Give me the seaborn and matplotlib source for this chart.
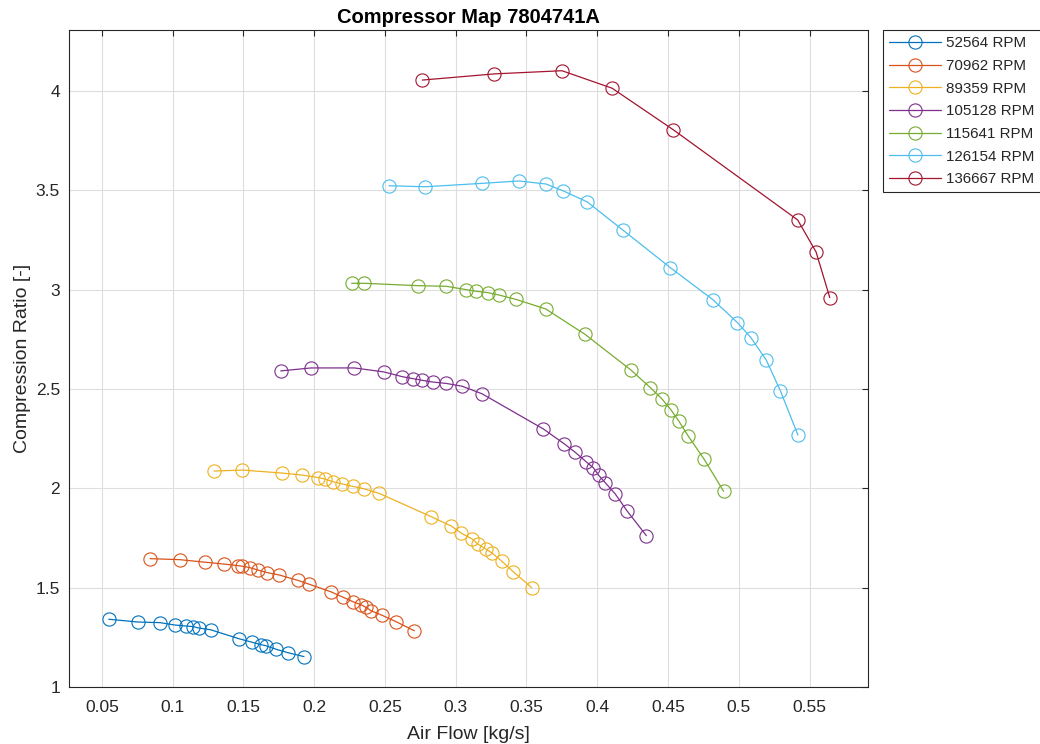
import matplotlib
matplotlib.use("Agg")
import matplotlib.pyplot as plt
import seaborn as sns
import numpy as np
import pandas as pd

# ---- data ----
speeds = ["52564 RPM", "70962 RPM", "89359 RPM", "105128 RPM",
          "115641 RPM", "126154 RPM", "136667 RPM"]

flow_52564 = [0.0549, 0.0756, 0.0911, 0.1015, 0.1093, 0.1146, 0.1185, 0.1269,
              0.1469, 0.1563, 0.1625, 0.1658, 0.1731, 0.1813, 0.1928]
pr_52564 = [1.341, 1.327, 1.324, 1.312, 1.307, 1.304, 1.297, 1.288,
            1.243, 1.225, 1.213, 1.208, 1.190, 1.173, 1.153]

flow_70962 = [0.0841, 0.1050, 0.1231, 0.1361, 0.1460, 0.1493, 0.1545, 0.1606,
              0.1667, 0.1752, 0.1884, 0.1962, 0.2119, 0.2204, 0.2275, 0.2331,
              0.2366, 0.2404, 0.2480, 0.2578, 0.2708]
pr_70962 = [1.646, 1.641, 1.628, 1.619, 1.611, 1.608, 1.601, 1.588,
            1.576, 1.564, 1.537, 1.518, 1.479, 1.452, 1.429, 1.414,
            1.401, 1.383, 1.361, 1.329, 1.283]

flow_89359 = [0.1293, 0.1493, 0.1771, 0.1912, 0.2030, 0.2075, 0.2135, 0.2199,
              0.2273, 0.2350, 0.2458, 0.2828, 0.2969, 0.3040, 0.3117, 0.3160,
              0.3212, 0.3254, 0.3325, 0.3407, 0.3537]
pr_89359 = [2.087, 2.092, 2.077, 2.067, 2.054, 2.047, 2.033, 2.022,
            2.010, 1.998, 1.975, 1.857, 1.810, 1.774, 1.745, 1.718,
            1.695, 1.676, 1.634, 1.580, 1.500]

flow_105128 = [0.1764, 0.1978, 0.2284, 0.2492, 0.2623, 0.2699, 0.2762, 0.2838,
               0.2934, 0.3045, 0.3186, 0.3619, 0.3765, 0.3845, 0.3923, 0.3972,
               0.4010, 0.4057, 0.4126, 0.4210, 0.4347]
pr_105128 = [2.591, 2.606, 2.606, 2.586, 2.562, 2.552, 2.544, 2.535,
             2.528, 2.514, 2.476, 2.299, 2.225, 2.181, 2.133, 2.104,
             2.066, 2.028, 1.973, 1.887, 1.762]

flow_115641 = [0.2265, 0.2352, 0.2736, 0.2934, 0.3075, 0.3144, 0.3228, 0.3306,
               0.3426, 0.3636, 0.3914, 0.4237, 0.4375, 0.4456, 0.4523, 0.4576,
               0.4643, 0.4754, 0.4893]
pr_115641 = [3.032, 3.032, 3.020, 3.017, 3.000, 2.992, 2.985, 2.973,
             2.951, 2.903, 2.775, 2.596, 2.507, 2.451, 2.393, 2.339,
             2.263, 2.148, 1.985]

flow_126154 = [0.2528, 0.2785, 0.3185, 0.3445, 0.3637, 0.3761, 0.3931, 0.4183,
               0.4516, 0.4818, 0.4991, 0.5086, 0.5194, 0.5294, 0.5418]
pr_126154 = [3.523, 3.518, 3.535, 3.547, 3.532, 3.497, 3.441, 3.299,
             3.111, 2.949, 2.834, 2.758, 2.646, 2.491, 2.268]

flow_136667 = [0.2764, 0.3272, 0.3751, 0.4105, 0.4537, 0.5416, 0.5546, 0.5643]
pr_136667 = [4.055, 4.086, 4.102, 4.014, 3.805, 3.351, 3.190, 2.960]

flows = [flow_52564, flow_70962, flow_89359, flow_105128,
         flow_115641, flow_126154, flow_136667]
prs = [pr_52564, pr_70962, pr_89359, pr_105128,
       pr_115641, pr_126154, pr_136667]

x_ticks = [0.05, 0.1, 0.15, 0.2, 0.25, 0.3, 0.35, 0.4, 0.45, 0.5, 0.55]
x_tick_labels = ["0.05", "0.1", "0.15", "0.2", "0.25", "0.3", "0.35",
                 "0.4", "0.45", "0.5", "0.55"]
y_ticks = [1, 1.5, 2, 2.5, 3, 3.5, 4]
y_tick_labels = ["1", "1.5", "2", "2.5", "3", "3.5", "4"]

colors = [(0, 0.447, 0.741), (0.85, 0.325, 0.098), (0.929, 0.694, 0.125),
          (0.494, 0.184, 0.556), (0.466, 0.674, 0.188), (0.301, 0.745, 0.933),
          (0.635, 0.078, 0.184)]

# ---- plot ----
sns.set_style("white")
plt.rcParams["font.family"] = ["Liberation Sans", "DejaVu Sans"]

fig = plt.figure(figsize=(10.4, 7.44), dpi=100)
ax = fig.add_axes([69 / 1040, 1 - 687 / 744, (868 - 69) / 1040, (687 - 30) / 744])

frames = []
for name, fx, py in zip(speeds, flows, prs):
    frames.append(pd.DataFrame({"flow": fx, "pr": py, "speed": name}))
df = pd.concat(frames, ignore_index=True)

for name, col in zip(speeds, colors):
    sub = df[df["speed"] == name]
    sns.lineplot(data=sub, x="flow", y="pr", ax=ax, color=col, label=name,
                 sort=False, estimator=None, marker="o", markersize=9.5,
                 markerfacecolor="none", markeredgecolor=col,
                 markeredgewidth=0.8, linewidth=0.9)

ax.set_xlim(0.0268, 0.5913)
ax.set_ylim(1, 4.307)
ax.set_xticks(x_ticks)
ax.set_xticklabels(x_tick_labels)
ax.set_yticks(y_ticks)
ax.set_yticklabels(y_tick_labels)

ax.grid(True, color="#dedede", linewidth=0.8)
ax.set_axisbelow(True)
for s in ax.spines.values():
    s.set_color("#262626")
    s.set_linewidth(0.8)
ax.tick_params(direction="in", length=4, width=0.8, color="#262626",
               labelcolor="#262626", labelsize=12.5, top=True, right=True)
ax.tick_params(axis="x", pad=9.5)
ax.tick_params(axis="y", pad=6.5)

ax.set_xlabel("Air Flow [kg/s]", fontsize=14, color="#262626", labelpad=8)
ax.set_ylabel("Compression Ratio [-]", fontsize=14, color="#262626", labelpad=3)
ax.set_title("Compressor Map 7804741A", fontsize=14.5, fontweight="bold",
             color="black", pad=5)

leg = ax.legend(loc="upper left", bbox_to_anchor=(883 / 1040, 1 - 30 / 744),
                bbox_transform=fig.transFigure, fontsize=10.9, frameon=True,
                fancybox=False, framealpha=1, edgecolor="#262626",
                handlelength=3.4, handletextpad=0.35, labelspacing=0.57,
                borderpad=0.42, borderaxespad=0)
leg.get_frame().set_linewidth(0.8)

fig.savefig("out.png", dpi=100)
